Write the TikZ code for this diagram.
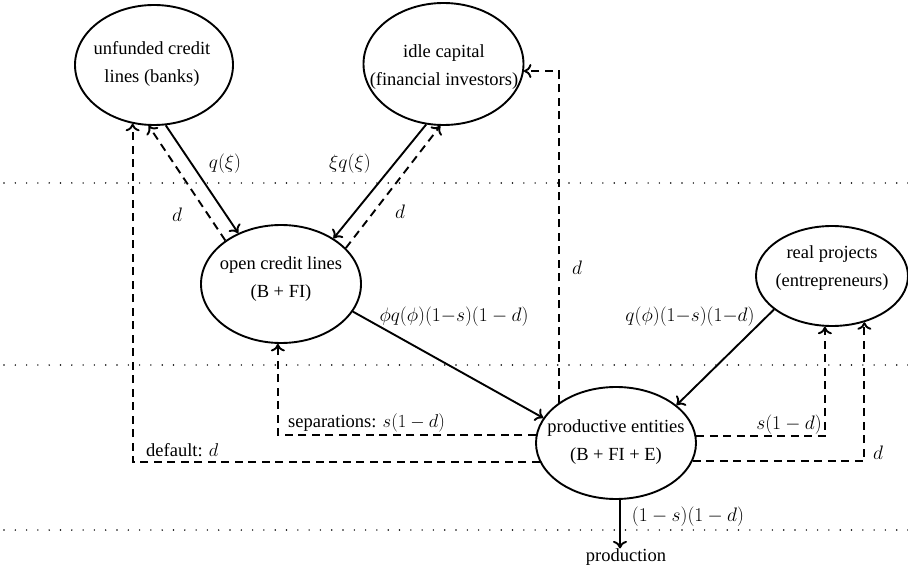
\RequirePackage{fix-cm}
\documentclass[tikz,border=0pt]{standalone}
\usepackage{fontspec}
\setmainfont{Liberation Serif}
\usetikzlibrary{shapes.geometric,arrows.meta}
\begin{document}
\begin{tikzpicture}[x=1pt,y=-1pt,
  font=\fontsize{18.5}{28}\selectfont,
  ell/.style={draw,ellipse,line width=1.9pt,inner sep=0pt},
  txt/.style={align=center,inner sep=0pt},
  lab/.style={inner sep=0pt},
  mlab/.style={inner sep=0pt,font=\fontsize{19.5}{28}\selectfont},
  flow/.style={line width=1.9pt,-{Computer Modern Rightarrow[length=7.5pt,width=14pt]}},
  back/.style={flow,dash pattern=on 8pt off 5.5pt},
  sepline/.style={line width=1.6pt,line cap=round,dash pattern=on 0pt off 11.3pt}]
\useasboundingbox (0,0) rectangle (908,572);

% dotted separators
\draw[sepline] (4,183) -- (908,183);
\draw[sepline] (4,365) -- (908,365);
\draw[sepline] (4,530) -- (908,530);

% nodes
\node[ell,minimum width=158pt,minimum height=120pt] (A) at (154,65) {};
\node[txt] (At) at (152,64) {unfunded credit\\lines (banks)};
\node[ell,minimum width=160pt,minimum height=122pt] (B) at (443.5,64) {};
\node[txt] (Bt) at (444,67) {idle capital\\(financial investors)};
\node[ell,minimum width=160pt,minimum height=118pt] (C) at (281,284) {};
\node[txt] (Ct) at (281,279) {open credit lines\\(B + FI)};
\node[ell,minimum width=152pt,minimum height=100pt] (D) at (832,276) {};
\node[txt] (Dt) at (832,268) {real projects\\(entrepreneurs)};
\node[ell,minimum width=160pt,minimum height=112pt] (E) at (616,443) {};
\node[txt] (Et) at (616,442) {productive entities\\(B + FI + E)};
\node[lab] (P) at (626,557) {production};

% connectors
\draw[flow] (A.-79.6) -- (C.130.1);
\draw[back] (C.142.7) -- (A.-95);
\draw[flow] (B.-106.9) -- (C.41);
\draw[back] (C.29.7) -- (B.-93);
\draw[flow] (C.-21.9) -- (E.161.3);
\draw[flow] (D.-150.6) -- (E.32);
\draw[back] (E.145.42) |- (B.-5.76);
\draw[back] (E.174.96) -| (C.-93.9);
\draw[back] (E.-166.64) -| (A.-110);
\draw[back] (E.5.04) -| (D.-98);
\draw[back] (E.-13.36) -| (D.-55.8);
\draw[flow] (E.-86) -- (E.-86 |- P.north);

% labels
\node[mlab] (l1) at (225,164) {$q(\xi)$};
\node[mlab] (l2) at (177,215) {$d$};
\node[mlab] (l3) at (350,164) {$\xi q(\xi)$};
\node[mlab] (l4) at (400,212) {$d$};
\node[mlab] (l5) at (577,268) {$d$};
\node[mlab] (l6) at (454,317) {$\phi q(\phi)(1{-}s)(1-d)$};
\node[mlab] (l7) at (690,317) {$q(\phi)(1{-}s)(1{-}d)$};
\node[lab,anchor=west] (l8) at (288,423) {separations: $s(1-d)$};
\node[lab,anchor=west] (l9) at (146,450) {default: $d$};
\node[mlab] (l10) at (789,425) {$s(1-d)$};
\node[mlab] (l11) at (878,453) {$d$};
\node[mlab] (l12) at (688,517) {$(1-s)(1-d)$};
\end{tikzpicture}
\end{document}
